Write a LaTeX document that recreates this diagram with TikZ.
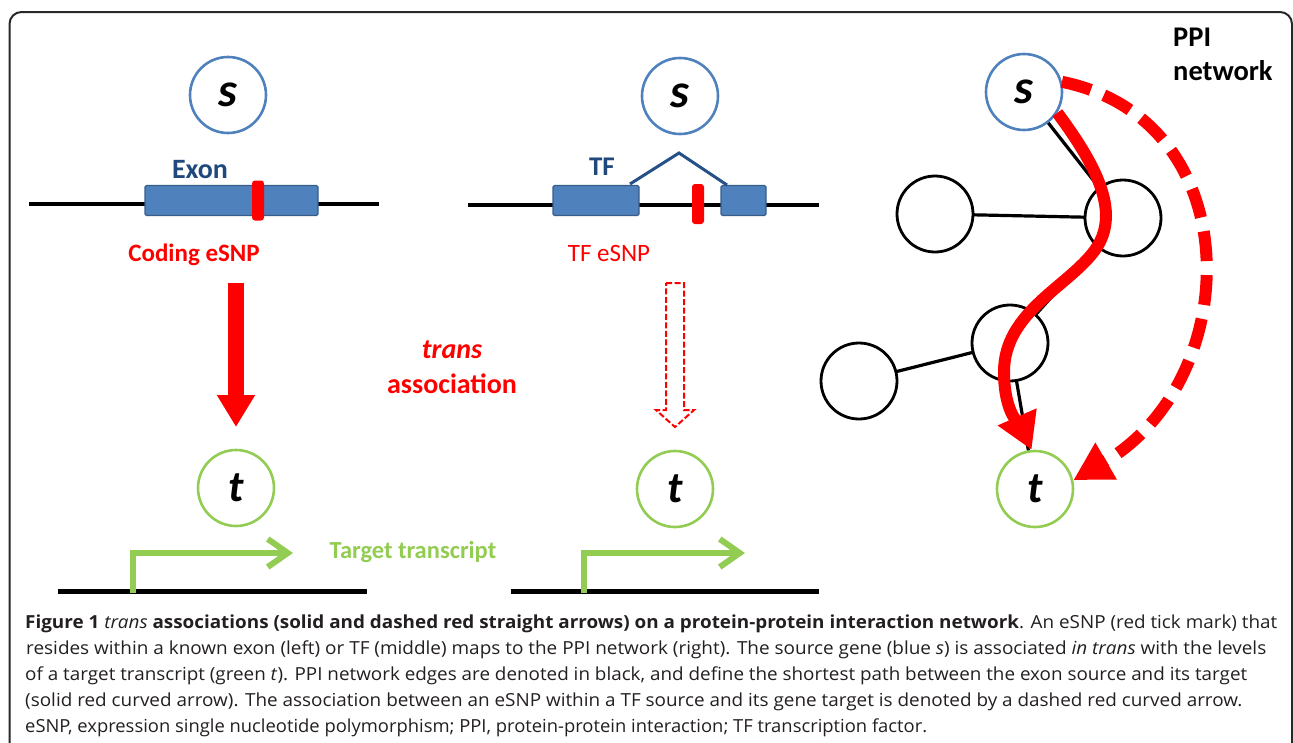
\documentclass[tikz,border=0pt]{standalone}
\usepackage{fontspec}
\usepackage{graphicx}
\setmainfont{Carlito}
\newfontfamily\capfont{Open Sans}
\usetikzlibrary{arrows.meta}
\definecolor{sblue}{RGB}{79,129,189}
\definecolor{exfill}{RGB}{79,129,189}
\definecolor{exborder}{RGB}{56,93,138}
\definecolor{dkblue}{RGB}{31,73,125}
\definecolor{tgreen}{RGB}{146,204,82}
\definecolor{capgray}{RGB}{35,31,32}
\definecolor{framegray}{RGB}{40,40,40}
\tikzset{
  gene/.style={circle, minimum size=76pt, inner sep=0pt, line width=2.6pt, fill=white},
  src/.style={gene, draw=sblue, font=\fontsize{48}{48}\selectfont\bfseries\itshape},
  tgt/.style={gene, draw=tgreen, font=\fontsize{44}{44}\selectfont\bfseries\itshape},
  ppinode/.style={gene, draw=black, line width=2.8pt},
  ppiedge/.style={line width=3.2pt, black},
  exonbox/.style={draw=exborder, fill=exfill, line width=1.2pt, inner sep=0pt, rounded corners=1.5pt, minimum height=30pt},
  snptick/.style={fill=red, inner sep=0pt, rounded corners=3pt, minimum width=12pt, minimum height=40pt},
  dna/.style={line width=4pt, black},
  transc/.style={tgreen, line width=6pt, -{Straight Barb[length=20pt,width=28pt]}},
  lbl/.style={anchor=base, inner sep=0pt},
  capline/.style={anchor=base west, inner sep=0pt, text=capgray, font=\capfont\fontsize{18}{22}\selectfont},
  redsolid/.style={red, line width=12pt, -{Triangle[length=36pt,width=40pt]}},
  reddash/.style={red, line width=12pt, dash pattern=on 30pt off 14pt, -{Triangle[length=38pt,width=40pt]}},
}
\begin{document}
\begin{tikzpicture}[x=1pt,y=-1pt]
\useasboundingbox (0,0) rectangle (1293,742);
% frame
\draw[framegray, line width=2pt, rounded corners=12pt] (9.5,760) -- (9.5,12) -- (1292,12) -- (1292,760);

% ---------- left panel ----------
\draw[dna] (29,204) -- (379,204);
\node[exonbox, minimum width=173pt] (ex1) at (231.5,200.5) {};
\node[snptick] (snp1) at (258,200.5) {};
\node[lbl, text=dkblue, font=\fontsize{28}{32}\selectfont\bfseries] (exonlbl) at (200,178) {Exon};
\node[lbl, text=red, font=\fontsize{25}{30}\selectfont\bfseries] (codlbl) at (194,261) {Coding eSNP};
\node[src] (s1) at (228,95) {s};
\coordinate (a1s) at (236,283);
\coordinate (a1e) at (236,427);
\draw[red, line width=16pt, -{Triangle[length=32pt,width=36pt]}] (a1s) -- (a1e);
\node[tgt] (t1) at (236,488) {t};
\draw[dna, line width=5pt] (58,591) -- (367,591);
\coordinate (tr1a) at (133,593);
\coordinate (tr1b) at (133,553);
\coordinate (tr1c) at (293,553);
\draw[transc] (tr1a) -- (tr1b) -- (tr1c);
\node[lbl, text=tgreen, font=\fontsize{24.5}{30}\selectfont\bfseries] (tgtlbl) at (413,558) {Target transcript};

% ---------- middle ----------
\node[lbl, text=red, font=\fontsize{28}{32}\selectfont\bfseries\itshape] (translbl) at (452,358) {trans};
\node[lbl, text=red, font=\fontsize{28}{32}\selectfont\bfseries] (assoclbl) at (452,393) {association};

\draw[dna] (468,205) -- (819,205);
\node[exonbox, minimum width=86pt] (ex2) at (596,200.5) {};
\node[exonbox, minimum width=45pt] (ex3) at (743.5,200.5) {};
\draw[dkblue!85!sblue, line width=3pt] (630,184) -- (679,153) -- (727,185);
\node[snptick] (snp2) at (698,204) {};
\node[lbl, text=dkblue, font=\fontsize{27}{30}\selectfont\bfseries] (tflbl) at (602,175) {TF};
\node[lbl, text=red, font=\fontsize{25}{30}\selectfont] (tfsnplbl) at (609,261) {TF eSNP};
\node[src] (s2) at (680,96) {s};
\draw[red, line width=2pt, dash pattern=on 6pt off 2.5pt, fill=white]
  (666,283) -- (684,283) -- (684,410) -- (694,410) -- (675,427) -- (656,410) -- (666,410) -- cycle;
\node[tgt] (t2) at (675,489) {t};
\draw[dna, line width=5pt] (511,591) -- (819,591);
\coordinate (tr2a) at (584,593);
\coordinate (tr2b) at (584,553);
\coordinate (tr2c) at (745,553);
\draw[transc] (tr2a) -- (tr2b) -- (tr2c);

% ---------- right: PPI network ----------
\node[anchor=base west, inner sep=0pt, font=\fontsize{28.5}{30}\selectfont\bfseries] (ppilbl) at (1173,46) {PPI};
\node[anchor=base west, inner sep=0pt, font=\fontsize{28.5}{30}\selectfont\bfseries] (netlbl) at (1173,80) {network};

\coordinate (sRc) at (1024,92);
\coordinate (nAc) at (1123,218);
\coordinate (nBc) at (935,214);
\coordinate (nCc) at (1010,343);
\coordinate (nDc) at (859,381);
\coordinate (tRc) at (1035,489);
\draw[ppiedge] (sRc) -- (nAc);
\draw[ppiedge] (nAc) -- (nBc);
\draw[ppiedge] (nAc) -- (nCc);
\draw[ppiedge] (nCc) -- (nDc);
\draw[ppiedge] (nCc) -- (tRc);
\node[src] (sR) at (sRc) {s};
\node[ppinode] (nA) at (nAc) {};
\node[ppinode] (nB) at (nBc) {};
\node[ppinode] (nC) at (nCc) {};
\node[ppinode] (nD) at (nDc) {};
\node[tgt] (tR) at (tRc) {t};

\coordinate (w1) at (1095,250);
\coordinate (w2) at (1004,372);
\draw[redsolid] (sR.-32) .. controls (1100,170) and (1120,215) .. (w1)
  .. controls (1068,287) and (1004,312) .. (w2)
  .. controls (1004,415) and (1022,428) .. (tR.95);
\draw[reddash] (sR.15) .. controls (1250,120) and (1245,380) .. (tR.13);

% ---------- caption ----------
\node[capline] (cap1) at (25,628) {\resizebox{1252pt}{\height}{\textbf{Figure 1} \textit{trans} \textbf{associations (solid and dashed red straight arrows) on a protein-protein interaction network}. An eSNP (red tick mark) that}};
\node[capline] (cap2) at (26,654.5) {\resizebox{1240pt}{\height}{resides within a known exon (left) or TF (middle) maps to the PPI network (right). The source gene (blue \textit{s}) is associated \textit{in trans} with the levels}};
\node[capline] (cap3) at (25,680.5) {\resizebox{1222pt}{\height}{of a target transcript (green \textit{t}). PPI network edges are denoted in black, and define the shortest path between the exon source and its target}};
\node[capline] (cap4) at (25,706.5) {\resizebox{1217pt}{\height}{(solid red curved arrow). The association between an eSNP within a TF source and its gene target is denoted by a dashed red curved arrow.}};
\node[capline] (cap5) at (25,732) {\resizebox{902pt}{\height}{eSNP, expression single nucleotide polymorphism; PPI, protein-protein interaction; TF transcription factor.}};
\end{tikzpicture}
\end{document}
